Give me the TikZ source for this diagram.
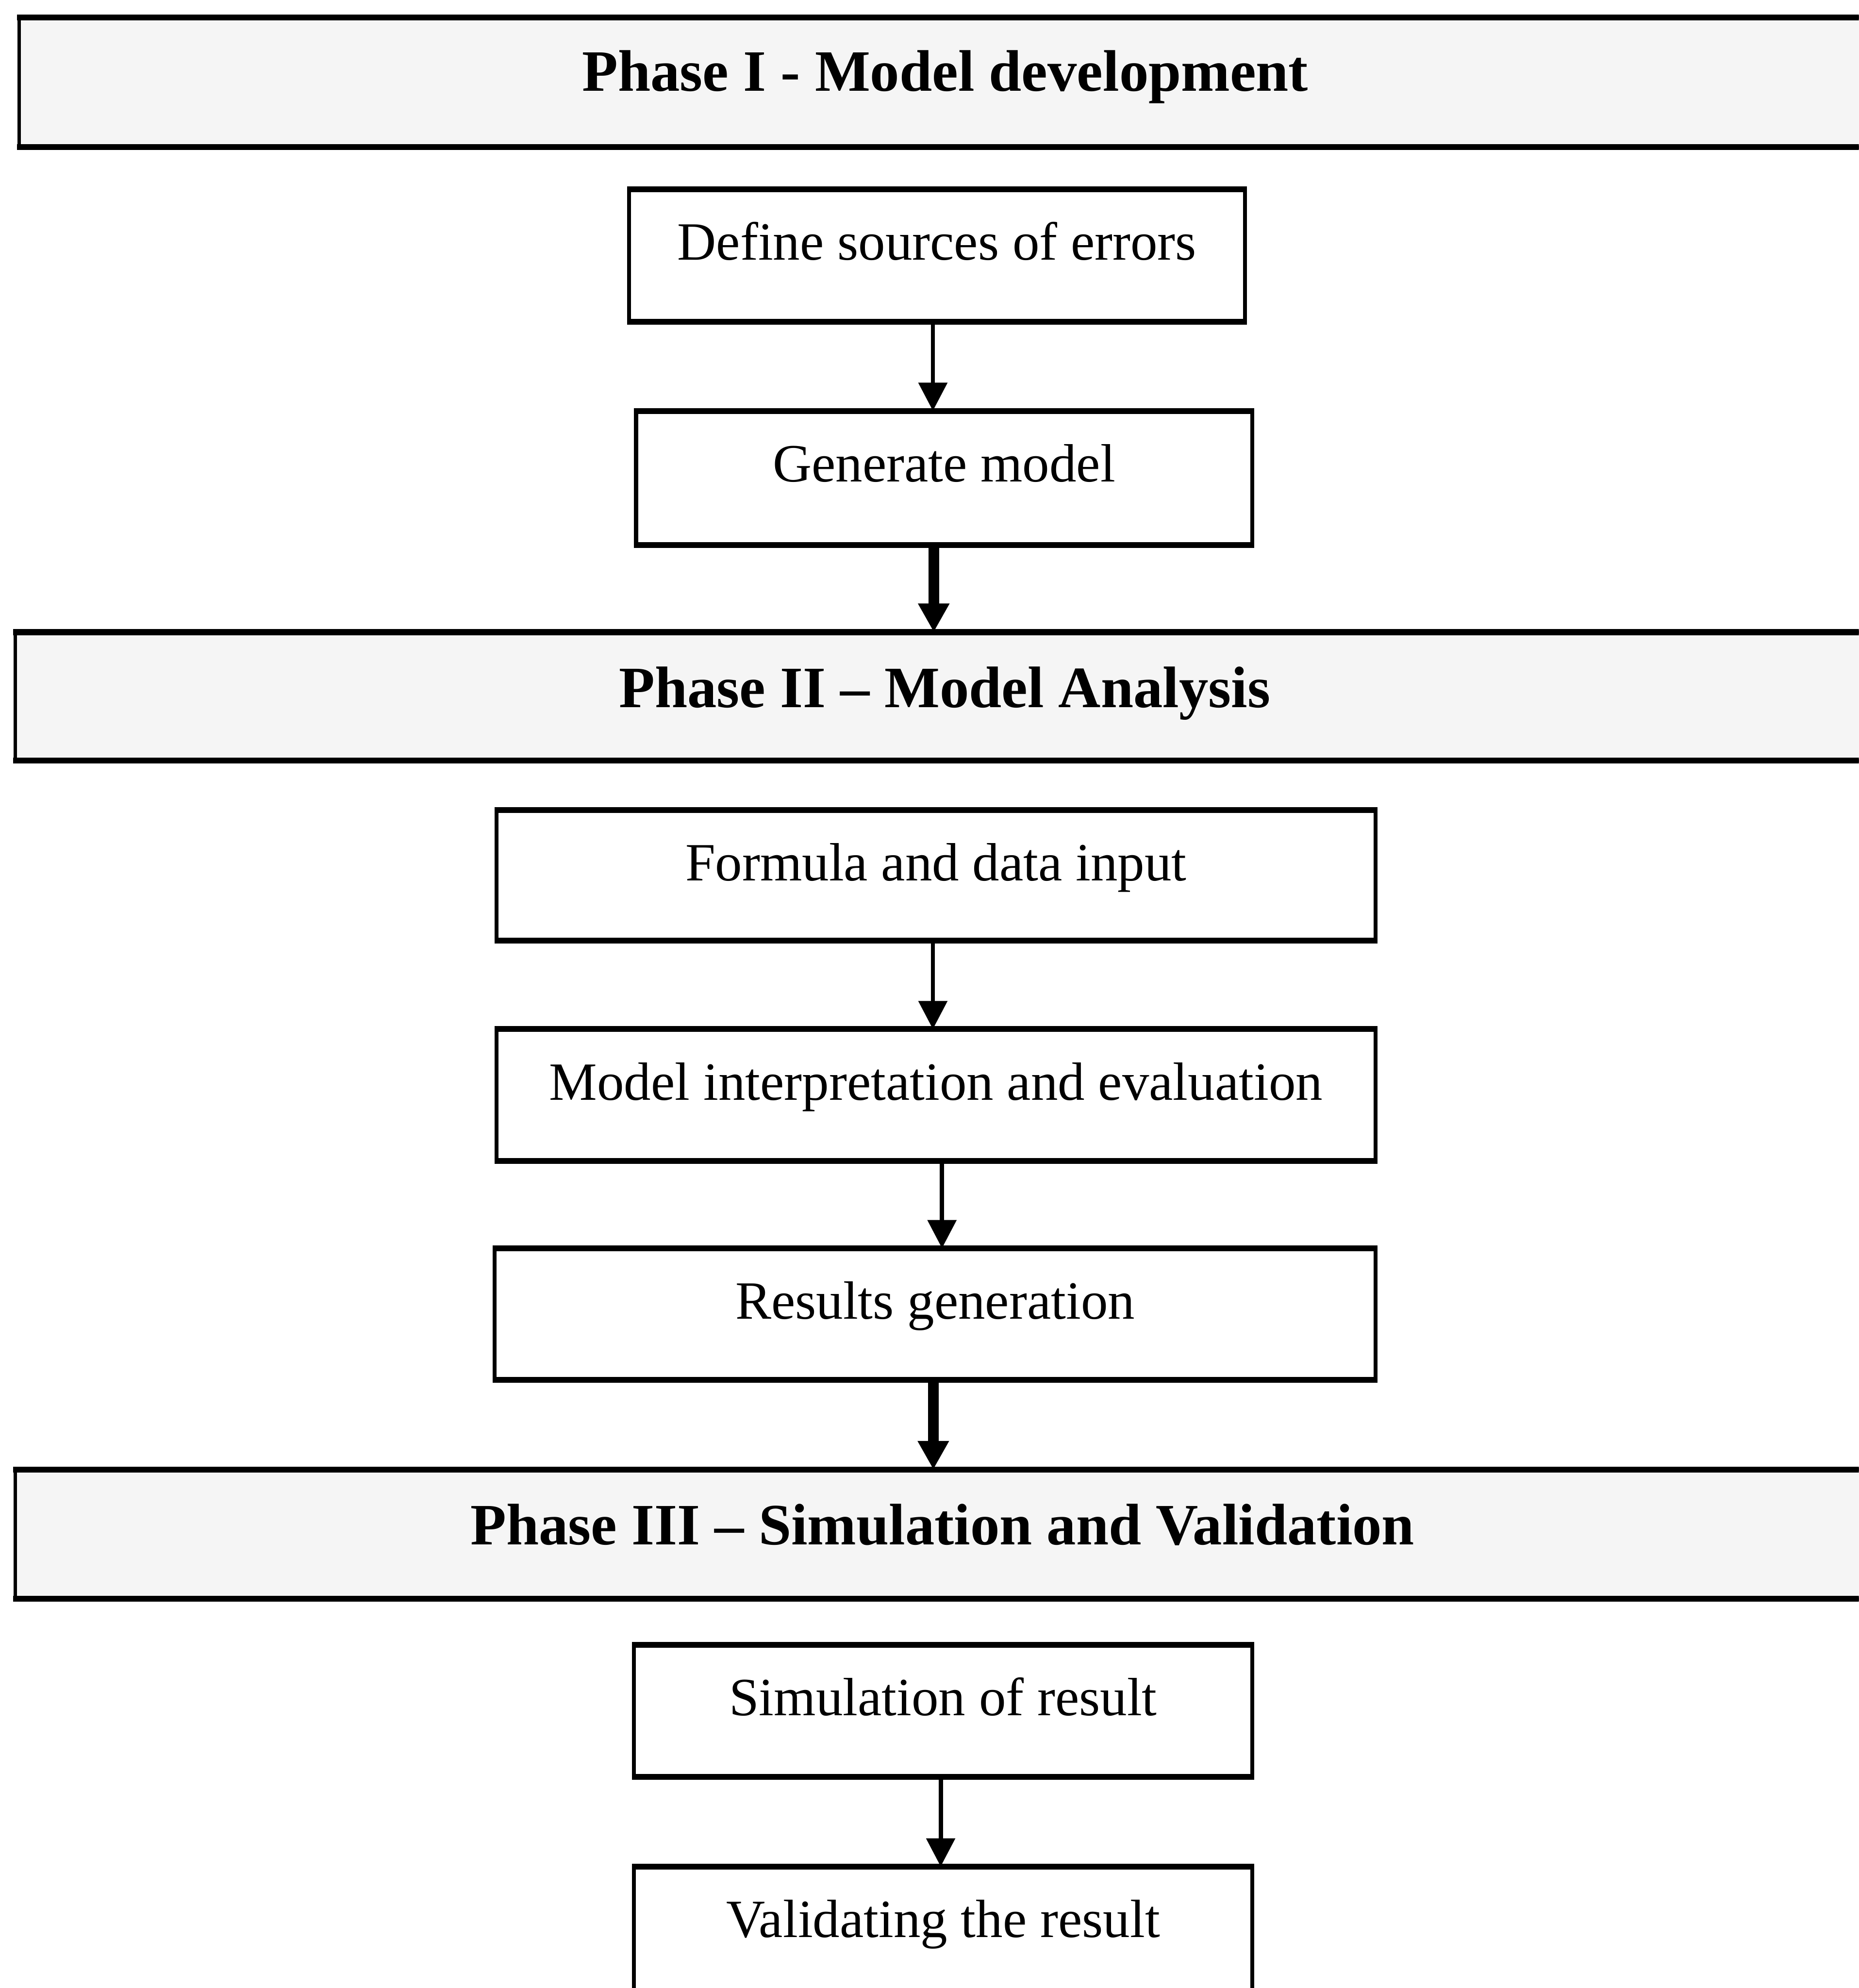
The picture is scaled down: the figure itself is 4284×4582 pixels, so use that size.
\documentclass[tikz,border=0pt]{standalone}
\usepackage{fontspec}
\setmainfont{Liberation Serif}
\usetikzlibrary{arrows.meta}

\newcommand{\boxfont}{\fontsize{35.3pt}{42pt}\selectfont}
\newcommand{\phasefont}{\bfseries\fontsize{38.4pt}{46pt}\selectfont}

\tikzset{
  % one step of the flow chart
  stepbox/.style={draw, line width=0.09cm, inner sep=0pt, outer sep=0pt,
    anchor=north west, text height=1.63cm, font=\boxfont},
  % full-width phase banner
  phasebar/.style={draw, fill=black!4, line width=0.08cm, inner sep=0pt,
    outer sep=0pt, anchor=north west, font=\phasefont},
  % heavier top and bottom rules
  rule/.style={line width=0.135cm, shorten <=-0.045cm, shorten >=-0.045cm},
  thinarrow/.style={line width=0.1cm, -{Triangle[width=0.65cm, length=0.65cm]}},
  thickarrow/.style={line width=0.24cm, -{Triangle[width=0.68cm, length=0.66cm]}}
}

\begin{document}
\begin{tikzpicture}[x=0.01cm, y=-0.01cm]
\useasboundingbox (0,0) rectangle (4284,4582);
\clip (0,0) rectangle (4284,4582);

% phase banners
\node[phasebar, minimum width=42.66cm, text height=1.70cm, text depth=1.29cm]
  (p1) at (44,40) {Phase I - Model development};
\node[phasebar, minimum width=42.82cm, text height=1.73cm, text depth=1.23cm]
  (p2) at (35,1457) {Phase II -- Model Analysis};
\node[phasebar, minimum width=42.72cm, text height=1.73cm, text depth=1.25cm]
  (p3) at (35,3387) {Phase III -- Simulation and Validation};

% steps
\node[stepbox, minimum width=14.18cm, text depth=1.42cm] (b1) at (1450,436) {Define sources of errors};
\node[stepbox, minimum width=14.19cm, text depth=1.46cm] (b2) at (1466,947) {Generate model};
\node[stepbox, minimum width=20.25cm, text depth=1.38cm] (b3) at (1144,1867) {Formula and data input};
\node[stepbox, minimum width=20.25cm, text depth=1.41cm] (b4) at (1144,2372) {Model interpretation and evaluation};
\node[stepbox, minimum width=20.29cm, text depth=1.40cm] (b5) at (1140,2877) {Results generation};
\node[stepbox, minimum width=14.24cm, text depth=1.41cm] (b6) at (1461,3791) {Simulation of result};
\node[stepbox, minimum width=14.24cm, text depth=1.90cm] (b7) at (1461,4302) {Validating the result};

% heavier horizontal edges
\foreach \n in {p1,p2,p3,b1,b2,b3,b4,b5,b6} {
  \draw[rule] (\n.north west) -- (\n.north east);
  \draw[rule] (\n.south west) -- (\n.south east);
}
\draw[rule] (b7.north west) -- (b7.north east);

% connector columns
\coordinate (x1) at (2150,0);
\coordinate (x2) at (2152,0);
\coordinate (x3) at (2150,0);
\coordinate (x4) at (2171,0);
\coordinate (x5) at (2151,0);
\coordinate (x6) at (2168,0);

% connectors
\draw[thinarrow]  (b1.south -| x1) -- (b2.north -| x1);
\draw[thickarrow] (b2.south -| x2) -- (p2.north -| x2);
\draw[thinarrow]  (b3.south -| x3) -- (b4.north -| x3);
\draw[thinarrow]  (b4.south -| x4) -- (b5.north -| x4);
\draw[thickarrow] (b5.south -| x5) -- (p3.north -| x5);
\draw[thinarrow]  (b6.south -| x6) -- (b7.north -| x6);
\end{tikzpicture}
\end{document}
